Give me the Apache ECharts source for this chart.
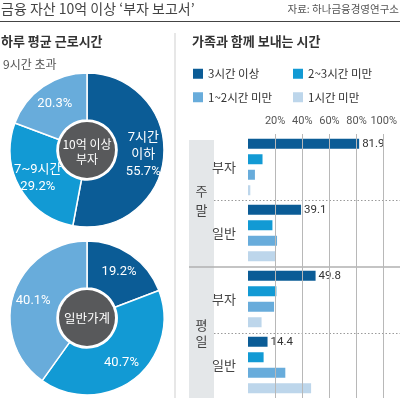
<!DOCTYPE html>
<html>
<head>
<meta charset="utf-8">
<script src="https://cdn.jsdelivr.net/npm/echarts@6/dist/echarts.min.js"></script>
<style>html,body{margin:0;padding:0;background:#fff;}#c{width:400px;height:398px;}</style>
</head>
<body>
<div id="c"></div>
<script>
// ---- data ----
const pieRichNames = ['7시간 이하', '7~9시간', '9시간 초과'];
const pieRichValues = [55.7, 29.2, 20.3];
const pieGeneralNames = ['7시간 이하', '7~9시간', '9시간 초과'];
const pieGeneralValues = [19.2, 40.7, 40.1];
const barCategories = ['주말 부자', '주말 일반', '평일 부자', '평일 일반'];
const seriesNames = ['3시간 이상', '2~3시간 미만', '1~2시간 미만', '1시간 미만'];
const over3h = [81.9, 39.1, 49.8, 14.4];
const h2to3 = [10.7, 18.0, 20.9, 11.5];
const h1to2 = [5.1, 21.4, 19.2, 27.5];
const under1h = [1.7, 20.4, 10.0, 46.5];
const xTickValues = [20, 40, 60, 80, 100];
const xTickLabels = ['20%', '40%', '60%', '80%', '100%'];

// ---- style ----
const FONT = "'Liberation Sans Narrow', 'Roboto', 'Noto Sans CJK KR', sans-serif";
const KFONT = "'Noto Sans CJK KR', sans-serif";
const C_DARK = '#0b5c96', C_MED = '#129ad4', C_LIGHT = '#68acdb', C_PALE = '#bdd6eb';
const seriesValues = [over3h, h2to3, h1to2, under1h];
const seriesColors = [C_DARK, C_MED, C_LIGHT, C_PALE];

const gridTop = 134, gridH = 266, gridLeft = 248, gridRight = 15;
const band = gridH / barCategories.length;

const chart = echarts.init(document.getElementById('c'), null, {renderer: 'canvas'});

const richLabelFmt = function (p) {
  if (p.dataIndex === 0) return '7시간\n이하\n' + p.value + '%';
  if (p.dataIndex === 1) return p.name + '\n' + p.value + '%';
  return p.value + '%';
};

const barSeries = seriesNames.map((n, i) => ({
  name: n,
  type: 'bar',
  data: seriesValues[i],
  barWidth: 10,
  barGap: '55%',
  itemStyle: {color: seriesColors[i]},
  label: i === 0 ? {
    show: true, position: 'right', distance: 3,
    fontFamily: FONT, fontSize: 11.5, color: '#333',
    formatter: p => p.value.toFixed(1)
  } : {show: false},
  z: 3
}));

// gridlines drawn behind the bars
const gridLineSeries = {
  name: 'gridlines', type: 'line', data: [], z: 1, silent: true,
  markLine: {
    silent: true, symbol: ['none', 'none'], label: {show: false},
    lineStyle: {color: '#b8b8b8', width: 1, type: 'solid'},
    emphasis: {disabled: true},
    data: xTickValues.map(v => ({xAxis: v}))
  }
};

const option = {
  animation: false,
  backgroundColor: '#fff',
  textStyle: {fontFamily: KFONT},
  legend: [
    {
      orient: 'vertical', left: 188, top: 63, itemWidth: 10, itemHeight: 10, itemGap: 12,
      icon: 'rect', data: [seriesNames[0], seriesNames[2]],
      textStyle: {fontFamily: KFONT, fontSize: 11.5, color: '#333'}
    },
    {
      orient: 'vertical', left: 288, top: 63, itemWidth: 10, itemHeight: 10, itemGap: 12,
      icon: 'rect', data: [seriesNames[1], seriesNames[3]],
      textStyle: {fontFamily: KFONT, fontSize: 11.5, color: '#333'}
    }
  ],
  grid: {left: gridLeft, right: gridRight, top: gridTop, height: gridH, containLabel: false},
  xAxis: {
    type: 'value', position: 'top', min: 0, max: 100, interval: 20,
    axisLine: {show: false},
    axisTick: {show: false},
    axisLabel: {
      showMinLabel: false, showMaxLabel: true, hideOverlap: false, margin: 7,
      fontFamily: FONT, fontSize: 11, color: '#555',
      formatter: v => xTickLabels[xTickValues.indexOf(v)] || ''
    },
    splitLine: {show: false}
  },
  yAxis: {
    type: 'category', data: barCategories, inverse: true,
    axisLine: {show: false}, axisTick: {show: false},
    axisLabel: {margin: 12, fontFamily: KFONT, fontSize: 13, color: '#444',
      formatter: v => v.split(' ')[1]}
  },
  series: [
    {
      type: 'pie', center: [87, 150], radius: [30, 77], startAngle: 90, clockwise: true,
      data: pieRichNames.map((n, i) => ({name: n, value: pieRichValues[i],
        itemStyle: {color: [C_DARK, C_MED, C_LIGHT][i]}})),
      itemStyle: {borderColor: '#fff', borderWidth: 1.5},
      label: {show: true, position: 'inside', formatter: richLabelFmt,
        fontFamily: FONT, fontSize: 13, lineHeight: 17, color: '#fff', align: 'center'},
      labelLine: {show: false}, emphasis: {disabled: true}, silent: true
    },
    {
      type: 'pie', center: [87, 318], radius: [30, 77], startAngle: 90, clockwise: true,
      data: pieGeneralNames.map((n, i) => ({name: n, value: pieGeneralValues[i],
        itemStyle: {color: [C_DARK, C_MED, C_LIGHT][i]}})),
      itemStyle: {borderColor: '#fff', borderWidth: 1.5},
      label: {show: true, position: 'inside', formatter: '{c}%',
        fontFamily: FONT, fontSize: 13, color: '#fff'},
      labelLine: {show: false}, emphasis: {disabled: true}, silent: true
    },
    gridLineSeries
  ].concat(barSeries),
  graphic: [
    // headers
    {type: 'text', left: 1, top: 2, style: {text: '금융 자산 10억 이상 ‘부자 보고서’',
      font: "14px 'Noto Sans CJK KR'", fill: '#444'}},
    {type: 'text', right: 1, top: 4, style: {text: '자료: 하나금융경영연구소',
      font: "10.5px 'Noto Sans CJK KR'", fill: '#555'}},
    {type: 'line', shape: {x1: 0, y1: 21.5, x2: 400, y2: 21.5}, style: {stroke: '#444', lineWidth: 1.2}},
    {type: 'text', left: 1, top: 35, style: {text: '하루 평균 근로시간',
      font: "bold 13px 'Noto Sans CJK KR'", fill: '#333'}},
    {type: 'text', left: 192, top: 35, style: {text: '가족과 함께 보내는 시간',
      font: "bold 13px 'Noto Sans CJK KR'", fill: '#333'}},
    {type: 'line', shape: {x1: 175, y1: 33, x2: 175, y2: 398}, style: {stroke: '#cfcfcf', lineWidth: 1}},
    {type: 'text', left: 3, top: 58, style: {text: '9시간 초과',
      font: "12px 'Noto Sans CJK KR'", fill: '#555'}},
    // pie centres
    {type: 'circle', shape: {cx: 87, cy: 150, r: 28}, style: {fill: '#58595b'}, z: 10},
    {type: 'text', x: 87, y: 152, style: {text: '10억 이상\n부자', align: 'center', verticalAlign: 'middle',
      font: "12px 'Noto Sans CJK KR'", lineHeight: 15, fill: '#fff'}, z: 11},
    {type: 'circle', shape: {cx: 87, cy: 318, r: 28}, style: {fill: '#58595b'}, z: 10},
    {type: 'text', x: 87, y: 318, style: {text: '일반가계', align: 'center', verticalAlign: 'middle',
      font: "12.5px 'Noto Sans CJK KR'", fill: '#fff'}, z: 11},
    // bar panel decorations
    {type: 'rect', shape: {x: 189, y: 140, width: 25, height: 258}, style: {fill: '#e4e7e9'}, z: -1},
    {type: 'line', shape: {x1: 189, y1: gridTop + band * 2, x2: 400, y2: gridTop + band * 2},
      style: {stroke: '#b0b0b0', lineWidth: 1.5}},
    {type: 'line', shape: {x1: 214, y1: gridTop + band, x2: 400, y2: gridTop + band},
      style: {stroke: '#9a9a9a', lineWidth: 1, lineDash: [1.5, 2]}},
    {type: 'line', shape: {x1: 214, y1: gridTop + band * 3, x2: 400, y2: gridTop + band * 3},
      style: {stroke: '#9a9a9a', lineWidth: 1, lineDash: [1.5, 2]}},
    {type: 'text', x: 201.5, y: gridTop + band, style: {text: '주\n말', align: 'center', verticalAlign: 'middle',
      font: "13px 'Noto Sans CJK KR'", lineHeight: 19, fill: '#444'}},
    {type: 'text', x: 201.5, y: gridTop + band * 3, style: {text: '평\n일', align: 'center', verticalAlign: 'middle',
      font: "13px 'Noto Sans CJK KR'", lineHeight: 16, fill: '#444'}}
  ]
};
chart.setOption(option);
</script>
</body>
</html>
